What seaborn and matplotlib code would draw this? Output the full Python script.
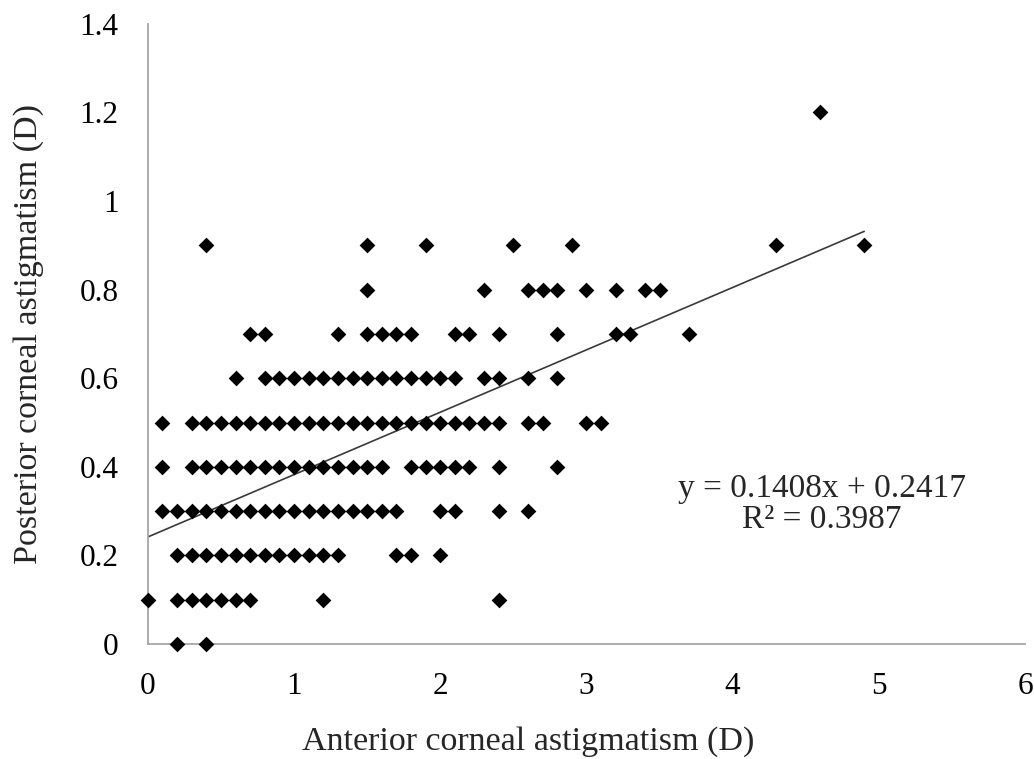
import matplotlib
matplotlib.use("Agg")
import matplotlib.pyplot as plt
import seaborn as sns
import pandas as pd
import numpy as np
from matplotlib.ticker import FormatStrFormatter

# ---- data: anterior astigmatism values (x) observed at each posterior level (y) ----
posterior_levels = [0.0, 0.1, 0.2, 0.3, 0.4, 0.5, 0.6, 0.7, 0.8, 0.9, 1.2]

x_at_y00 = [0.2, 0.4]
x_at_y01 = [0.0, 0.2, 0.3, 0.4, 0.5, 0.6, 0.7, 1.2, 2.4]
x_at_y02 = [0.2, 0.3, 0.4, 0.5, 0.6, 0.7, 0.8, 0.9, 1.0, 1.1, 1.2, 1.3, 1.7, 1.8, 2.0]
x_at_y03 = [0.1, 0.2, 0.3, 0.4, 0.5, 0.6, 0.7, 0.8, 0.9, 1.0, 1.1, 1.2, 1.3, 1.4,
            1.5, 1.6, 1.7, 2.0, 2.1, 2.4, 2.6]
x_at_y04 = [0.1, 0.3, 0.4, 0.5, 0.6, 0.7, 0.8, 0.9, 1.0, 1.1, 1.2, 1.3, 1.4, 1.5,
            1.6, 1.8, 1.9, 2.0, 2.1, 2.2, 2.4, 2.8]
x_at_y05 = [0.1, 0.3, 0.4, 0.5, 0.6, 0.7, 0.8, 0.9, 1.0, 1.1, 1.2, 1.3, 1.4, 1.5,
            1.6, 1.7, 1.8, 1.9, 2.0, 2.1, 2.2, 2.3, 2.4, 2.6, 2.7, 3.0, 3.1]
x_at_y06 = [0.6, 0.8, 0.9, 1.0, 1.1, 1.2, 1.3, 1.4, 1.5, 1.6, 1.7, 1.8, 1.9, 2.0,
            2.1, 2.3, 2.4, 2.6, 2.8]
x_at_y07 = [0.7, 0.8, 1.3, 1.5, 1.6, 1.7, 1.8, 2.1, 2.2, 2.4, 2.8, 3.2, 3.3, 3.7]
x_at_y08 = [1.5, 2.3, 2.6, 2.7, 2.8, 3.0, 3.2, 3.4, 3.5]
x_at_y09 = [0.4, 1.5, 1.9, 2.5, 2.9, 4.3, 4.9]
x_at_y12 = [4.6]

x_groups = [x_at_y00, x_at_y01, x_at_y02, x_at_y03, x_at_y04, x_at_y05,
            x_at_y06, x_at_y07, x_at_y08, x_at_y09, x_at_y12]

trend_slope = 0.1408
trend_intercept = 0.2417
equation_text = "y = 0.1408x + 0.2417\nR² = 0.3987"

x_ticks = [0, 1, 2, 3, 4, 5, 6]
y_ticks = [0, 0.2, 0.4, 0.6, 0.8, 1.0, 1.2, 1.4]

x_label = "Anterior corneal astigmatism (D)"
y_label = "Posterior corneal astigmatism (D)"

# ---- build table ----
rows = []
for lvl, xs in zip(posterior_levels, x_groups):
    for xv in xs:
        rows.append({"anterior": xv, "posterior": lvl})
df = pd.DataFrame(rows)

# ---- plot ----
sns.set_theme(style="white")
plt.rcParams["font.family"] = ["Liberation Serif", "DejaVu Serif"]

fig = plt.figure(figsize=(10.34, 7.59), dpi=100)
ax = fig.add_axes([0.143, 0.1515, 0.8483, 0.817])

sns.scatterplot(data=df, x="anterior", y="posterior", marker="D", s=64,
                color="black", edgecolor="black", linewidth=0, ax=ax,
                clip_on=False, zorder=3)

line_x = np.array([df["anterior"].min(), df["anterior"].max()])
ax.plot(line_x, trend_slope * line_x + trend_intercept, color="#3a3a3a",
        lw=1.2, zorder=2)

ax.set_xlim(0, 6)
ax.set_ylim(0, 1.4)
ax.set_xticks(x_ticks)
ax.set_yticks(y_ticks)
ax.yaxis.set_major_formatter(FormatStrFormatter("%g"))
ax.xaxis.set_major_formatter(FormatStrFormatter("%g"))

for s in ["top", "right"]:
    ax.spines[s].set_visible(False)
for s in ["left", "bottom"]:
    ax.spines[s].set_color("#a6a6a6")
    ax.spines[s].set_linewidth(1.3)

ax.tick_params(axis="both", direction="out", length=7, width=1.3,
               color="#a6a6a6", labelsize=22.5, labelcolor="black")
ax.tick_params(axis="x", pad=13)
ax.tick_params(axis="y", pad=14)

ax.set_xlabel(x_label, fontsize=24.5)
ax.set_ylabel(y_label, fontsize=24.5)
ax.xaxis.set_label_coords(0.434, -0.132)
ax.yaxis.set_label_coords(-0.118, 0.5)

ax.text(4.61, 0.315, equation_text, ha="center", va="center",
        multialignment="center", fontsize=24, linespacing=1.0)

fig.savefig("out.png", dpi=100)
